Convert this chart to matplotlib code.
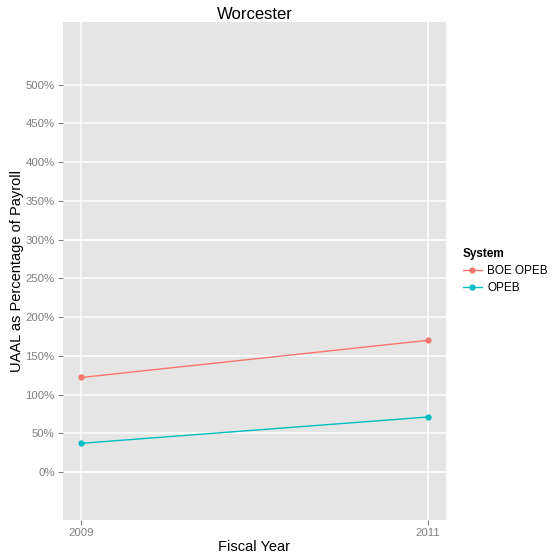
import matplotlib
matplotlib.use("Agg")
import matplotlib.pyplot as plt
from matplotlib.lines import Line2D

plt.rcParams['font.family'] = ['Liberation Sans', 'DejaVu Sans']

years = [2009, 2011]
boe_opeb = [122, 170]
opeb = [37, 71]
series_names = ["BOE OPEB", "OPEB"]
colors = ["#F8766D", "#00BFC4"]
y_ticks = [0, 50, 100, 150, 200, 250, 300, 350, 400, 450, 500]
y_labels = [f"{v}%" for v in y_ticks]

fig = plt.figure(figsize=(5.56, 5.57), dpi=100)
W, H = 556, 557
ax = fig.add_axes([63 / W, (H - 520) / H, (446 - 63) / W, (520 - 22) / H])
ax.set_facecolor("#E5E5E5")
for s in ax.spines.values():
    s.set_visible(False)

ax.set_xlim(2008.896, 2011.104)
ax.set_ylim(-62, 581)
ax.set_xticks(years)
ax.set_xticklabels([str(y) for y in years])
ax.set_yticks(y_ticks)
ax.set_yticklabels(y_labels)
ax.grid(True, color="white", linewidth=1.1)
ax.set_axisbelow(True)
ax.tick_params(axis="both", colors="#7F7F7F", labelcolor="#7F7F7F", labelsize=8.2,
               length=3.5, width=0.8, pad=2.5)

for vals, c in zip([boe_opeb, opeb], colors):
    ax.plot(years, vals, color=c, linewidth=1.0, marker="o", markersize=3.5, zorder=3)

ax.set_title("Worcester", fontsize=12, color="black", pad=2)
ax.set_xlabel("Fiscal Year", fontsize=10.5, labelpad=1)
ax.set_ylabel("UAAL as Percentage of Payroll", fontsize=10.5)
ax.yaxis.set_label_coords((24 - 63) / 383, 0.5)

handles = [Line2D([0], [0], color=c, marker="o", markersize=3.5, linewidth=1.0) for c in colors]
leg = fig.legend(handles, series_names, title="System", loc="upper left",
                 bbox_to_anchor=(452 / W, 1 - 237 / H), frameon=False,
                 fontsize=8.5, title_fontsize=8.5, handlelength=1.6,
                 handletextpad=0.5, labelspacing=0.45, alignment="left")
leg.get_title().set_fontweight("bold")

fig.savefig("out.png", dpi=100)
